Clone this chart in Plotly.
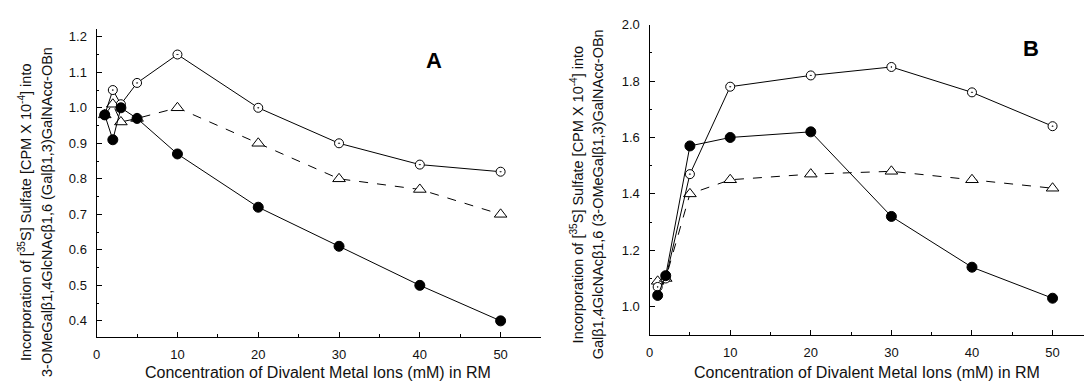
import plotly.graph_objects as go

# ---- data ----
conc_a = [1, 2, 3, 5, 10, 20, 30, 40, 50]
a_open = [0.98, 1.05, 1.01, 1.07, 1.15, 1.00, 0.90, 0.84, 0.82]
a_tri = [0.98, 1.01, 0.96, 0.97, 1.00, 0.90, 0.80, 0.77, 0.70]
a_fill = [0.98, 0.91, 1.00, 0.97, 0.87, 0.72, 0.61, 0.50, 0.40]

conc_b = [1, 2, 5, 10, 20, 30, 40, 50]
b_open = [1.07, 1.10, 1.47, 1.78, 1.82, 1.85, 1.76, 1.64]
b_tri = [1.09, 1.10, 1.40, 1.45, 1.47, 1.48, 1.45, 1.42]
b_fill = [1.04, 1.11, 1.57, 1.60, 1.62, 1.32, 1.14, 1.03]

x_title = "Concentration of Divalent Metal Ions (mM) in RM"
y_line1 = "Incorporation of [<sup>35</sup>S] Sulfate [CPM X 10<sup>-4</sup>] into"
y_line2_a = "3-OMeGalβ1,4GlcNAcβ1,6 (Galβ1,3)GalNAcα-OBn"
y_line2_b = "Galβ1,4GlcNAcβ1,6 (3-OMeGalβ1,3)GalNAcα-OBn"

W, H = 1084, 382
FONT = "Liberation Sans, Arial, sans-serif"

fig = go.Figure()


def add_series(x, y, xa, ya, symbol, size, fill, dash):
    fig.add_trace(go.Scatter(
        x=x, y=y, xaxis=xa, yaxis=ya, mode="lines+markers",
        line=dict(color="black", width=1, dash=dash),
        marker=dict(symbol=symbol, size=size, color=fill,
                    line=dict(color="black", width=1)),
        showlegend=False, cliponaxis=False))


for xa, ya, x, o, t, f in [("x", "y", conc_a, a_open, a_tri, a_fill),
                            ("x2", "y2", conc_b, b_open, b_tri, b_fill)]:
    add_series(x, t, xa, ya, "triangle-up", 11, "white", "dash")
    add_series(x, o, xa, ya, "circle-dot", 9, "white", "solid")
    add_series(x, f, xa, ya, "circle", 10, "black", "solid")

axis_common = dict(showline=True, linecolor="black", linewidth=1.3,
                   ticks="inside", ticklen=5, tickwidth=1, tickcolor="black",
                   showgrid=False, zeroline=False, mirror=False,
                   tickfont=dict(family=FONT, size=13, color="#111"))

fig.update_layout(
    width=W, height=H, margin=dict(l=0, r=0, t=0, b=0),
    paper_bgcolor="white", plot_bgcolor="rgba(0,0,0,0)",
    xaxis=dict(domain=[93 / W, 539 / W], range=[0, 55], dtick=10, tick0=0,
               anchor="y", ticklabelstandoff=5,
               minor=dict(ticks="inside", ticklen=2.5, dtick=5, tickcolor="black"),
               **axis_common),
    yaxis=dict(domain=[1 - 336 / H, 1 - 22 / H], range=[0.355, 1.223], dtick=0.1,
               tick0=0, tickformat=".1f", anchor="x", ticklabelstandoff=6,
               minor=dict(ticks="inside", ticklen=2.5, dtick=0.05, tickcolor="black"),
               **axis_common),
    xaxis2=dict(domain=[648 / W, 1.0], range=[0, 53.9], dtick=10, tick0=0,
                anchor="y2", ticklabelstandoff=5,
                minor=dict(ticks="inside", ticklen=2.5, dtick=5, tickcolor="black"),
                **axis_common),
    yaxis2=dict(domain=[1 - 334 / H, 1 - 18 / H], range=[0.9, 2.0], dtick=0.2,
                tick0=0, tickformat=".1f", anchor="x2", ticklabelstandoff=6,
                minor=dict(ticks="inside", ticklen=2.5, dtick=0.1, tickcolor="black"),
                **axis_common),
)

ann = []
txt_font = dict(family=FONT, size=16, color="#111")
ytxt_font = dict(family=FONT, size=14.5, color="#111")
ann.append(dict(text=x_title, x=315 / W, y=1 - 372 / H, xref="paper", yref="paper",
                showarrow=False, font=txt_font, xanchor="center", yanchor="middle"))
ann.append(dict(text=x_title, x=866 / W, y=1 - 372 / H, xref="paper", yref="paper",
                showarrow=False, font=txt_font, xanchor="center", yanchor="middle"))
for xl1, xl2, yc, l2 in [(21, 43, 209, y_line2_a), (575, 596, 191, y_line2_b)]:
    ann.append(dict(text=y_line1, x=xl1 / W, y=1 - yc / H, xref="paper", yref="paper",
                    showarrow=False, font=ytxt_font, textangle=-90,
                    xanchor="center", yanchor="middle"))
    ann.append(dict(text=l2, x=xl2 / W, y=1 - yc / H, xref="paper", yref="paper",
                    showarrow=False, font=ytxt_font, textangle=-90,
                    xanchor="center", yanchor="middle"))
ann.append(dict(text="<b>A</b>", x=432 / W, y=1 - 55 / H, xref="paper", yref="paper",
                showarrow=False, font=dict(family=FONT, size=22, color="black"),
                xanchor="center", yanchor="middle"))
ann.append(dict(text="<b>B</b>", x=1031 / W, y=1 - 42 / H, xref="paper", yref="paper",
                showarrow=False, font=dict(family=FONT, size=22, color="black"),
                xanchor="center", yanchor="middle"))
fig.update_layout(annotations=ann)

fig.write_html("out.html", config={"displayModeBar": False},
               post_script="document.body.style.margin='0px';document.body.style.overflow='hidden';")
